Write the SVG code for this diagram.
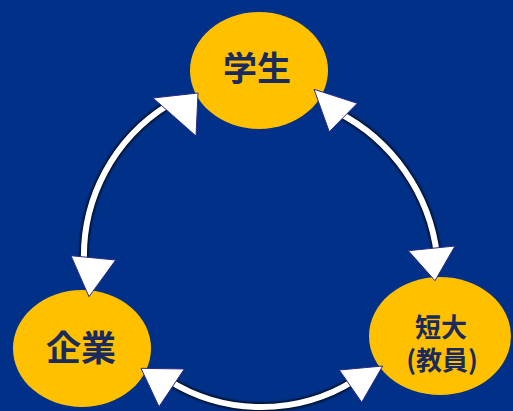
<svg xmlns="http://www.w3.org/2000/svg" width="513" height="411" viewBox="0 0 513 411">
<defs>
<filter id="sh" x="-20%" y="-20%" width="140%" height="140%">
<feGaussianBlur stdDeviation="1"/>
</filter>
</defs>
<style>
.node{fill:#FFC000;}
.lbl{font-family:"Noto Sans CJK JP","Noto Sans CJK SC",sans-serif;font-weight:bold;fill:#1b2a5c;text-anchor:middle;}
.shadow{fill:none;stroke:#000;stroke-width:9;stroke-opacity:0.75;filter:url(#sh);}
.shaft{fill:none;stroke:#fff;stroke-width:6;}
.head{fill:#fff;stroke:#2b2b86;stroke-width:1;stroke-linejoin:miter;}
</style>
<rect width="513" height="411" fill="#003087"/>
<g id="n-student">
<ellipse class="node" cx="259" cy="70.5" rx="69" ry="58.5"/>
<text class="lbl" x="257" y="81" font-size="34">学生</text>
</g>
<g id="n-company">
<ellipse class="node" cx="82" cy="348.5" rx="69" ry="58.5"/>
<text class="lbl" x="81" y="361" font-size="35">企業</text>
</g>
<g id="n-college">
<ellipse class="node" cx="440" cy="336" rx="71" ry="59"/>
<text class="lbl" x="441" y="336.5" font-size="26">短大</text>
<text class="lbl" x="442" y="370" font-size="26">(教員)</text>
</g>
<g id="connectors">
<path class="shadow" d="M 84,262 A 178 178 0 0 1 168,105"/>
<path class="shaft" d="M 84,262 A 178 178 0 0 1 168,105"/>
<polygon class="head" points="153,98 198,93 196,136"/>
<polygon class="head" points="71,255.7 115.7,260 89,296.7"/>
<path class="shadow" d="M 337,112 A 185 185 0 0 1 437,255"/>
<path class="shaft" d="M 337,112 A 185 185 0 0 1 437,255"/>
<polygon class="head" points="314,89.3 357.3,103.3 329.3,131.7"/>
<polygon class="head" points="408.3,250.7 455,246 435,280.7"/>
<path class="shadow" d="M 355,380 A 175 175 0 0 1 168,380"/>
<path class="shaft" d="M 355,380 A 175 175 0 0 1 168,380"/>
<polygon class="head" points="141,368.3 184.3,369 159,406.7"/>
<polygon class="head" points="339.3,370 382.7,366 361.7,402.3"/>
</g>
</svg>
